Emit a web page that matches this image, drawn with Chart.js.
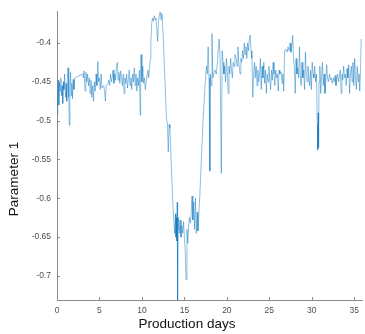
<!DOCTYPE html>
<html lang="en">
<head>
    <meta charset="UTF-8">
    <title>Parameter 1 over production days</title>
    <script src="https://cdn.jsdelivr.net/npm/chart.js"></script>
    <style>
        body {
            margin: 0;
            background: #fff;
        }
        canvas {
            display: block;
        }
    </style>
</head>
<body>
    <canvas id="paramChart" width="365" height="334"></canvas>

    <script>
        // Data
        const days = [
            0.00, 0.08, 0.15, 0.22, 0.30, 0.38, 0.45, 0.52, 0.60, 0.68, 0.75, 0.82, 0.90, 1.00,
            1.08, 1.15, 1.22, 1.30, 1.38, 1.45, 1.52, 1.60, 1.68, 1.75, 1.82, 1.90, 2.00, 2.08,
            3.00, 3.10, 3.20, 3.30, 3.40, 3.50, 3.60, 3.70, 3.80, 3.90, 4.00, 4.10, 4.20, 4.30,
            4.40, 4.50, 4.60, 4.70, 4.80, 4.90, 5.00, 5.10, 5.20, 5.30, 5.50, 5.60, 5.70, 5.80,
            6.00, 6.10, 6.20, 6.30, 6.40, 6.50, 6.60, 6.70, 6.80, 6.90, 7.00, 7.10, 7.20, 7.30,
            7.40, 7.50, 7.60, 7.70, 7.80, 7.90, 8.00, 8.10, 8.20, 8.30, 8.40, 8.50, 8.60, 8.70,
            8.80, 8.90, 9.00, 9.10, 9.20, 9.30, 9.40, 9.50, 9.60, 9.70, 9.80, 9.85, 9.90, 10.00,
            10.10, 10.20, 10.30, 10.40, 10.50, 10.60, 10.70, 10.80, 10.90, 11.00, 11.05, 11.15,
            11.25, 11.35, 11.45, 11.55, 11.65, 11.75, 11.85, 11.95, 12.05, 12.15, 12.25, 12.35,
            12.50, 12.70, 12.90, 13.00, 13.10, 13.20, 13.30, 13.50, 13.70, 13.85, 13.95, 14.00,
            14.05, 14.10, 14.15, 14.20, 14.25, 14.30, 14.40, 14.50, 14.60, 14.70, 14.80, 14.90,
            15.00, 15.10, 15.20, 15.30, 15.40, 15.50, 15.60, 15.70, 15.80, 15.90, 16.00, 16.10,
            16.20, 16.30, 16.40, 16.50, 16.60, 16.80, 17.00, 17.20, 17.40, 17.60, 17.70, 17.80,
            17.90, 18.00, 18.05, 18.15, 18.25, 18.35, 18.45, 18.60, 18.75, 18.90, 19.00, 19.10,
            19.20, 19.35, 19.45, 19.55, 19.65, 19.75, 19.85, 19.95, 20.05, 20.15, 20.25, 20.35,
            20.45, 20.55, 20.65, 20.75, 20.85, 20.95, 21.10, 21.20, 21.30, 21.40, 21.55, 21.65,
            21.75, 21.85, 21.95, 22.05, 22.15, 22.25, 22.35, 22.45, 22.55, 22.65, 22.75, 22.85,
            22.95, 23.05, 23.15, 23.25, 23.35, 23.45, 23.55, 23.65, 23.75, 23.85, 23.95, 24.05,
            24.15, 24.25, 24.35, 24.45, 24.55, 24.65, 24.75, 24.85, 24.95, 25.05, 25.15, 25.25,
            25.35, 25.45, 25.55, 25.65, 25.75, 25.85, 25.95, 26.05, 26.15, 26.25, 26.40, 26.50,
            26.60, 26.70, 26.80, 26.95, 27.10, 27.20, 27.35, 27.45, 27.55, 27.65, 27.75, 27.85,
            27.95, 28.05, 28.15, 28.25, 28.35, 28.45, 28.55, 28.65, 28.75, 28.85, 28.95, 29.05,
            29.15, 29.25, 29.35, 29.45, 29.55, 29.65, 29.75, 29.85, 29.95, 30.05, 30.15, 30.25,
            30.35, 30.45, 30.55, 30.65, 30.70, 30.75, 30.80, 30.85, 30.95, 31.05, 31.15, 31.25,
            31.35, 31.45, 31.55, 31.65, 31.75, 31.85, 31.95, 32.10, 32.20, 32.30, 32.40, 32.55,
            32.65, 32.75, 32.85, 32.95, 33.05, 33.15, 33.25, 33.35, 33.45, 33.55, 33.65, 33.75,
            33.85, 33.95, 34.05, 34.15, 34.25, 34.35, 34.45, 34.55, 34.65, 34.75, 34.85, 34.95,
            35.05, 35.15, 35.25, 35.35, 35.45, 35.55, 35.65, 35.75, 35.82
        ];
        const param1 = [
            -0.492, -0.470, -0.448, -0.480, -0.452, -0.462, -0.445, -0.468, -0.455, -0.478, -0.450, -0.460, -0.440, -0.470,
            -0.452, -0.475, -0.445, -0.432, -0.470, -0.506, -0.455, -0.438, -0.468, -0.452, -0.472, -0.447, -0.460, -0.445,
            -0.440, -0.445, -0.436, -0.462, -0.438, -0.450, -0.440, -0.455, -0.445, -0.465, -0.448, -0.470, -0.455, -0.475,
            -0.450, -0.462, -0.440, -0.455, -0.424, -0.450, -0.445, -0.460, -0.440, -0.458, -0.455, -0.462, -0.475, -0.455,
            -0.452, -0.448, -0.455, -0.440, -0.450, -0.445, -0.435, -0.452, -0.440, -0.448, -0.430, -0.425, -0.448, -0.438,
            -0.452, -0.436, -0.445, -0.455, -0.440, -0.465, -0.445, -0.452, -0.440, -0.458, -0.448, -0.435, -0.455, -0.445,
            -0.460, -0.440, -0.450, -0.432, -0.455, -0.440, -0.462, -0.445, -0.455, -0.435, -0.493, -0.440, -0.415, -0.450,
            -0.430, -0.452, -0.445, -0.460, -0.450, -0.440, -0.435, -0.445, -0.430, -0.420, -0.400, -0.375,
            -0.368, -0.372, -0.365, -0.370, -0.368, -0.382, -0.398, -0.372, -0.366, -0.360, -0.370, -0.362,
            -0.390, -0.445, -0.500, -0.502, -0.540, -0.505, -0.510, -0.570, -0.620, -0.645, -0.620, -0.650,
            -0.625, -0.655, -0.605, -0.731, -0.640, -0.625, -0.645, -0.628, -0.650, -0.635, -0.645, -0.630,
            -0.650, -0.670, -0.705, -0.640, -0.658, -0.635, -0.625, -0.632, -0.620, -0.597, -0.628, -0.605,
            -0.640, -0.600, -0.645, -0.618, -0.642, -0.600, -0.550, -0.500, -0.460, -0.430, -0.440, -0.405,
            -0.445, -0.565, -0.440, -0.455, -0.388, -0.445, -0.440, -0.435, -0.440, -0.425, -0.405, -0.395,
            -0.420, -0.568, -0.410, -0.425, -0.440, -0.430, -0.450, -0.420, -0.435, -0.465, -0.430, -0.440,
            -0.420, -0.435, -0.445, -0.425, -0.430, -0.415, -0.420, -0.430, -0.405, -0.425, -0.440, -0.420,
            -0.425, -0.410, -0.420, -0.400, -0.415, -0.405, -0.420, -0.400, -0.410, -0.395, -0.390, -0.410,
            -0.420, -0.470, -0.440, -0.425, -0.445, -0.430, -0.455, -0.435, -0.450, -0.440, -0.420, -0.460,
            -0.430, -0.445, -0.425, -0.452, -0.435, -0.465, -0.440, -0.450, -0.430, -0.445, -0.460, -0.435,
            -0.448, -0.425, -0.440, -0.455, -0.435, -0.445, -0.440, -0.462, -0.435, -0.440, -0.438, -0.452,
            -0.440, -0.462, -0.410, -0.408, -0.412, -0.405, -0.410, -0.400, -0.412, -0.405, -0.390, -0.420,
            -0.430, -0.465, -0.420, -0.440, -0.432, -0.445, -0.405, -0.440, -0.455, -0.425, -0.445, -0.435,
            -0.460, -0.412, -0.440, -0.450, -0.430, -0.445, -0.455, -0.435, -0.460, -0.425, -0.440, -0.445,
            -0.430, -0.450, -0.440, -0.505, -0.538, -0.490, -0.535, -0.450, -0.430, -0.465, -0.445, -0.425,
            -0.455, -0.440, -0.465, -0.450, -0.428, -0.445, -0.450, -0.440, -0.448, -0.445, -0.452, -0.445,
            -0.450, -0.442, -0.455, -0.445, -0.440, -0.450, -0.442, -0.435, -0.465, -0.440, -0.448, -0.430,
            -0.445, -0.440, -0.455, -0.433, -0.445, -0.428, -0.465, -0.440, -0.430, -0.450, -0.425, -0.455,
            -0.420, -0.445, -0.460, -0.430, -0.450, -0.440, -0.462, -0.430, -0.395
        ];
        const xTicks = [0, 5, 10, 15, 20, 25, 30, 35];
        const yTicks = [-0.7, -0.65, -0.6, -0.55, -0.5, -0.45, -0.4];

        const axisColor = '#8c8c8c';
        const labelColor = '#4d4d4d';
        const fontFamily = '"Liberation Sans", Arial, sans-serif';

        // MATLAB style: ticks pointing into the plot, titles placed like the original
        const matlabAxes = {
            id: 'matlabAxes',
            afterDraw(chart) {
                const ctx = chart.ctx;
                const area = chart.chartArea;
                const xs = chart.scales.x;
                const ys = chart.scales.y;
                ctx.save();
                ctx.strokeStyle = axisColor;
                ctx.lineWidth = 1;
                ctx.beginPath();
                xTicks.forEach(v => {
                    const px = Math.round(xs.getPixelForValue(v)) + 0.5;
                    ctx.moveTo(px, area.bottom);
                    ctx.lineTo(px, area.bottom - 3);
                });
                yTicks.forEach(v => {
                    const py = Math.round(ys.getPixelForValue(v)) + 0.5;
                    ctx.moveTo(area.left, py);
                    ctx.lineTo(area.left + 3, py);
                });
                ctx.stroke();

                ctx.fillStyle = '#111';
                ctx.font = '13.5px ' + fontFamily;
                ctx.textAlign = 'center';
                ctx.textBaseline = 'alphabetic';
                ctx.fillText('Production days', 187, 328);

                ctx.translate(18, 179);
                ctx.rotate(-Math.PI / 2);
                ctx.fillText('Parameter 1', 0, 0);
                ctx.restore();
            }
        };

        const ctx = document.getElementById('paramChart').getContext('2d');
        new Chart(ctx, {
            type: 'line',
            data: {
                datasets: [{
                    label: 'Parameter 1',
                    data: days.map((d, i) => ({ x: d, y: param1[i] })),
                    borderColor: 'rgba(0, 114, 189, 0.45)',
                    borderWidth: 1,
                    pointRadius: 0,
                    tension: 0,
                    fill: false
                }]
            },
            options: {
                responsive: false,
                animation: false,
                layout: {
                    padding: { top: 5, right: 1, left: 0, bottom: 0 }
                },
                plugins: {
                    legend: { display: false },
                    tooltip: { enabled: false }
                },
                scales: {
                    x: {
                        type: 'linear',
                        min: 0,
                        max: 36,
                        grid: { display: false, drawTicks: false },
                        border: { color: axisColor, width: 1 },
                        afterBuildTicks: scale => {
                            scale.ticks = xTicks.map(v => ({ value: v }));
                        },
                        afterFit: scale => {
                            scale.height = 34;
                        },
                        ticks: {
                            color: labelColor,
                            font: { size: 8.5, family: fontFamily },
                            padding: 6,
                            maxRotation: 0,
                            callback: v => String(v)
                        }
                    },
                    y: {
                        type: 'linear',
                        min: -0.731,
                        max: -0.359,
                        grid: { display: false, drawTicks: false },
                        border: { color: axisColor, width: 1 },
                        afterBuildTicks: scale => {
                            scale.ticks = yTicks.map(v => ({ value: v }));
                        },
                        afterFit: scale => {
                            scale.width = 57;
                        },
                        ticks: {
                            color: labelColor,
                            font: { size: 8.5, family: fontFamily },
                            padding: 6,
                            callback: v => String(v)
                        }
                    }
                }
            },
            plugins: [matlabAxes]
        });
    </script>
</body>
</html>
